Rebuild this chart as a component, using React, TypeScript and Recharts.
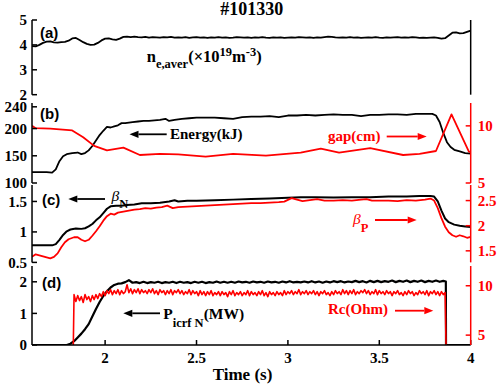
import React from 'react';
import { LineChart, Line, XAxis, YAxis } from 'recharts';

// ---------- shared axis data ----------
const X_DOMAIN: [number, number] = [1.6, 4];
const X_TICKS = [2, 2.5, 3, 3.5, 4];
const X_TICK_LABELS = ['2', '2.5', '3', '3.5', '4'];

// ---------- (a) line-averaged density, 1.60 s .. 4.00 s every 0.02 s ----------
const NE_T0 = 1.6;
const NE_DT = 0.02;
const NE_VALUES = [
  3.95, 3.94, 4.0, 4.08, 4.13, 4.14, 4.1, 4.09, 4.11, 4.12,
  4.17, 4.26, 4.28, 4.2, 4.11, 4.04, 4.0, 4.01, 4.08, 4.18,
  4.25, 4.26, 4.22, 4.2, 4.25, 4.32, 4.33, 4.31, 4.33, 4.31,
  4.3, 4.32, 4.29, 4.31, 4.3, 4.29, 4.31, 4.3, 4.32, 4.29,
  4.3, 4.29, 4.31, 4.28, 4.3, 4.31, 4.29, 4.3, 4.28, 4.3,
  4.29, 4.31, 4.29, 4.3, 4.28, 4.29, 4.31, 4.3, 4.29, 4.3,
  4.28, 4.3, 4.29, 4.31, 4.29, 4.28, 4.3, 4.29, 4.3, 4.28,
  4.29, 4.3, 4.29, 4.31, 4.3, 4.29, 4.3, 4.28, 4.3, 4.29,
  4.31, 4.33, 4.32, 4.3, 4.29, 4.3, 4.29, 4.31, 4.29, 4.3,
  4.28, 4.29, 4.3, 4.29, 4.31, 4.29, 4.28, 4.3, 4.29, 4.3,
  4.31, 4.29, 4.3, 4.29, 4.31, 4.3, 4.28, 4.29, 4.28, 4.29,
  4.3, 4.28, 4.25, 4.27, 4.38, 4.49, 4.5, 4.46, 4.47, 4.52,
  4.57,
];

// ---------- (b) stored energy (kJ) and gap (cm) ----------
const ENERGY_KJ: [number, number][] = [
  [1.6, 120], [1.64, 120], [1.68, 120], [1.71, 119], [1.73, 125], [1.75, 140], [1.77, 149], [1.79, 153],
  [1.82, 155], [1.85, 156], [1.87, 153], [1.89, 155], [1.91, 160], [1.93, 168], [1.95, 178], [1.97, 188],
  [1.99, 196], [2.01, 203], [2.03, 202], [2.05, 204], [2.07, 206], [2.09, 210], [2.11, 210], [2.13, 211],
  [2.15, 212], [2.18, 213], [2.21, 214], [2.24, 214], [2.27, 215], [2.3, 216], [2.33, 218], [2.35, 214],
  [2.38, 216], [2.42, 218], [2.46, 219], [2.5, 220], [2.55, 220], [2.6, 220], [2.65, 219], [2.7, 218],
  [2.75, 221], [2.8, 222], [2.85, 222], [2.9, 223], [2.95, 221], [3.0, 224], [3.05, 224], [3.1, 225],
  [3.15, 224], [3.2, 225], [3.25, 226], [3.3, 225], [3.35, 225], [3.4, 223], [3.45, 225], [3.5, 225],
  [3.55, 226], [3.6, 226], [3.65, 225], [3.7, 227], [3.75, 227], [3.79, 227], [3.81, 224], [3.83, 212],
  [3.85, 192], [3.87, 175], [3.89, 166], [3.91, 161], [3.94, 158], [3.97, 155], [4.0, 154],
];
const GAP_CM: [number, number][] = [
  [1.6, 10.0], [1.62, 9.8], [1.7, 9.75], [1.82, 9.6], [1.88, 9.0], [1.94, 8.25], [2.01, 7.85],
  [2.1, 8.1], [2.19, 7.45], [2.3, 7.55], [2.4, 7.5], [2.55, 7.3], [2.7, 7.55], [2.88, 7.4],
  [3.07, 7.65], [3.18, 8.0], [3.28, 7.65], [3.45, 8.05], [3.63, 7.45], [3.72, 7.55], [3.81, 7.8],
  [3.895, 11.0], [3.99, 7.75], [4.0, 7.7],
];

// ---------- (c) beta_N and beta_P ----------
const BETA_N: [number, number][] = [
  [1.6, 0.78], [1.71, 0.78], [1.73, 0.8], [1.75, 0.87], [1.77, 0.95], [1.79, 1.01], [1.81, 1.04],
  [1.84, 1.055], [1.87, 1.05], [1.89, 1.06], [1.91, 1.09], [1.93, 1.13], [1.95, 1.19], [1.97, 1.24],
  [1.99, 1.31], [2.01, 1.38], [2.03, 1.42], [2.06, 1.43], [2.09, 1.43], [2.12, 1.44], [2.16, 1.45],
  [2.2, 1.47], [2.25, 1.47], [2.3, 1.48], [2.35, 1.5], [2.38, 1.52], [2.4, 1.5], [2.45, 1.51],
  [2.5, 1.51], [2.6, 1.52], [2.7, 1.53], [2.8, 1.54], [2.9, 1.55], [3.0, 1.56], [3.07, 1.57],
  [3.15, 1.57], [3.25, 1.565], [3.35, 1.57], [3.45, 1.57], [3.55, 1.58], [3.65, 1.58], [3.72, 1.59],
  [3.78, 1.59], [3.8, 1.58], [3.82, 1.5], [3.84, 1.35], [3.86, 1.22], [3.88, 1.16], [3.91, 1.12],
  [3.94, 1.1], [3.97, 1.09], [4.0, 1.08],
];
const BETA_P: [number, number][] = [
  [1.6, 1.38], [1.62, 1.43], [1.64, 1.41], [1.67, 1.38], [1.7, 1.35], [1.72, 1.38], [1.74, 1.45],
  [1.76, 1.57], [1.78, 1.67], [1.8, 1.73], [1.83, 1.77], [1.85, 1.77], [1.87, 1.72], [1.89, 1.69],
  [1.91, 1.72], [1.93, 1.8], [1.95, 1.89], [1.97, 1.99], [1.99, 2.1], [2.01, 2.19], [2.03, 2.24],
  [2.05, 2.22], [2.07, 2.26], [2.1, 2.28], [2.13, 2.3], [2.16, 2.32], [2.19, 2.33], [2.22, 2.35],
  [2.25, 2.34], [2.28, 2.36], [2.31, 2.37], [2.34, 2.4], [2.37, 2.35], [2.4, 2.37], [2.45, 2.38],
  [2.5, 2.39], [2.55, 2.4], [2.6, 2.41], [2.65, 2.42], [2.7, 2.43], [2.75, 2.44], [2.8, 2.45],
  [2.85, 2.45], [2.9, 2.46], [2.95, 2.47], [2.98, 2.48], [3.02, 2.55], [3.05, 2.52], [3.08, 2.49],
  [3.12, 2.51], [3.16, 2.53], [3.2, 2.5], [3.25, 2.5], [3.3, 2.51], [3.35, 2.5], [3.4, 2.52],
  [3.43, 2.53], [3.46, 2.5], [3.5, 2.5], [3.55, 2.5], [3.6, 2.49], [3.65, 2.51], [3.7, 2.5],
  [3.75, 2.52], [3.78, 2.54], [3.8, 2.5], [3.82, 2.35], [3.84, 2.15], [3.86, 1.98], [3.88, 1.87],
  [3.9, 1.81], [3.92, 1.78], [3.94, 1.81], [3.96, 1.79], [3.98, 1.76], [4.0, 1.78],
];

// ---------- (d) ICRF power (MW) and coupling resistance (Ohm) ----------
const PICRF_RISE: [number, number][] = [
  [1.6, 0], [1.79, 0], [1.81, 0.04], [1.83, 0.12], [1.85, 0.24], [1.87, 0.36], [1.89, 0.5],
  [1.91, 0.66], [1.93, 0.9], [1.95, 1.14], [1.97, 1.36], [1.99, 1.55], [2.01, 1.7], [2.03, 1.82],
  [2.05, 1.9], [2.07, 1.94],
];
const PICRF_T0 = 2.09;
const PICRF_DT = 0.02;
const PICRF_FLAT = [
  1.95, 1.99, 2.05, 1.97, 1.99, 1.96, 2.0, 1.96, 1.99, 1.97,
  2.0, 1.96, 1.99, 1.97, 2.0, 1.96, 2.0, 1.97, 1.99, 1.96,
  2.0, 1.97, 2.0, 1.96, 1.99, 1.97, 2.01, 1.97, 2.0, 1.97,
  2.0, 1.97, 2.01, 1.98, 2.0, 1.97, 2.01, 1.98, 2.0, 1.97,
  2.01, 1.98, 2.0, 1.97, 2.01, 1.98, 2.02, 1.98, 2.0, 1.98,
  2.01, 1.98, 2.02, 1.98, 2.01, 1.97, 2.01, 1.98, 2.02, 1.99,
  2.02, 1.98, 2.01, 1.99, 2.03, 1.99, 2.02, 1.98, 2.03, 1.99,
  2.03, 1.99, 2.02, 2.0, 2.04, 1.99, 2.03, 2.0, 2.04, 1.99,
  2.03, 2.0, 2.04, 1.99, 2.03, 2.0, 2.04, 2.0, 2.03,
];
const PICRF_OFF: [number, number][] = [[3.864, 2.01], [3.865, 0], [4.0, 0]];

const RC_ON: [number, number] = [1.826, 4.0];
const RC_T0 = 1.83;
const RC_DT = 0.01;
const RC_VALUES = [
  9.1, 8.4, 9.0, 8.5, 8.9, 8.3, 9.1, 8.6, 8.9, 8.4,
  9.0, 8.6, 9.1, 8.7, 9.2, 8.9, 9.4, 9.0, 9.5, 9.2,
  9.6, 9.1, 9.5, 9.2, 9.6, 9.1, 9.5, 9.2, 9.4, 10.1,
  9.3, 9.7, 9.2, 9.6, 9.3, 9.7, 9.2, 9.6, 9.3, 9.5,
  9.2, 9.6, 9.3, 9.7, 9.2, 9.5, 9.1, 9.6, 9.3, 9.5,
  9.1, 9.5, 9.2, 9.6, 9.1, 9.5, 9.3, 9.6, 9.2, 9.5,
  9.1, 9.4, 9.2, 9.6, 9.1, 9.5, 9.2, 9.4, 9.0, 9.5,
  9.1, 9.4, 9.0, 9.4, 9.1, 9.5, 9.0, 9.3, 9.1, 9.4,
  9.0, 9.4, 9.1, 9.3, 8.9, 9.4, 9.1, 9.5, 9.0, 9.3,
  9.1, 9.4, 9.0, 9.3, 9.1, 9.5, 9.0, 9.4, 9.1, 9.3,
  9.0, 9.4, 9.1, 9.5, 9.0, 9.3, 8.9, 9.4, 9.1, 9.3,
  9.0, 9.4, 9.1, 9.3, 9.0, 9.5, 9.1, 9.4, 9.2, 9.5,
  9.1, 9.4, 9.2, 9.6, 9.1, 9.4, 9.2, 9.5, 9.1, 9.4,
  9.2, 9.5, 9.1, 9.4, 9.0, 9.4, 9.2, 9.5, 9.1, 9.3,
  9.0, 9.4, 9.1, 9.5, 9.2, 9.4, 9.1, 9.6, 9.2, 9.5,
  9.1, 9.5, 9.2, 9.6, 9.1, 9.4, 9.2, 9.5, 9.3, 9.6,
  9.2, 9.5, 9.1, 9.4, 9.2, 9.6, 9.1, 9.5, 9.2, 9.4,
  9.1, 9.5, 9.2, 9.4, 9.0, 9.4, 9.2, 9.5, 9.1, 9.3,
  9.0, 9.4, 9.1, 9.5, 9.2, 9.4, 9.0, 9.3, 9.1, 9.5,
  9.2, 9.4, 9.1, 9.5, 9.0, 9.4, 9.2, 9.5, 9.1, 9.4,
  9.0, 9.4, 9.1, 9.3,
];
const RC_OFF: [number, number] = [3.865, 4.0];

// ---------- tables built from the arrays ----------
type Pt = { t: number; v: number };
const fromPairs = (p: [number, number][]): Pt[] => p.map(([t, v]) => ({ t, v }));
const fromGrid = (t0: number, dt: number, vals: number[]): Pt[] =>
  vals.map((v, i) => ({ t: Math.round((t0 + i * dt) * 1000) / 1000, v }));

const neData = fromGrid(NE_T0, NE_DT, NE_VALUES);
const energyData = fromPairs(ENERGY_KJ);
const gapData = fromPairs(GAP_CM);
const betaNData = fromPairs(BETA_N);
const betaPData = fromPairs(BETA_P);
const picrfData = [...fromPairs(PICRF_RISE), ...fromGrid(PICRF_T0, PICRF_DT, PICRF_FLAT), ...fromPairs(PICRF_OFF)];
const rcData = [...fromPairs([RC_ON]), ...fromGrid(RC_T0, RC_DT, RC_VALUES), ...fromPairs([RC_OFF])];

// ---------- styling ----------
const W = 502;
const H = 386;
const PLOT_LEFT = 32;
const PLOT_RIGHT = 470.7;
const RED = '#ff0000';
const SERIF = '"Liberation Serif", "Times New Roman", serif';
const SANS = '"Liberation Sans", Arial, sans-serif';

type Series = { data: Pt[]; axis: 'l' | 'r'; color: string; width: number; key: string };
type PanelProps = {
  top: number;
  height: number;
  leftDomain: [number, number];
  leftTicks: number[];
  rightDomain: [number, number];
  rightTicks: number[];
  rightColor: string;
  rightLabels: boolean;
  series: Series[];
  showX: boolean;
};

const tickFont = (fill: string) => ({ fill, fontSize: 15, fontFamily: SERIF, fontWeight: 700 });

function Panel(p: PanelProps) {
  const mt = 12;
  const mb = p.showX ? 0 : 12;
  const xh = p.showX ? 40 : 0;
  const h = p.height + mt + mb + xh;
  const axisBlack = { stroke: '#000', strokeWidth: 1.5 };
  const axisRight = { stroke: p.rightColor, strokeWidth: 1.5 };
  return (
    <div style={{ position: 'absolute', left: 0, top: p.top - mt, width: W, height: h }}>
      <LineChart width={W} height={h} margin={{ top: mt, right: 0, bottom: mb, left: 0 }} style={{ overflow: 'visible' }}>
        <XAxis
          xAxisId="b"
          type="number"
          dataKey="t"
          domain={X_DOMAIN}
          ticks={X_TICKS}
          tickFormatter={(v: number) => X_TICK_LABELS[X_TICKS.indexOf(v)] ?? String(v)}
          allowDataOverflow
          interval={0}
          height={xh}
          tickSize={-5}
          tickMargin={12.5}
          tick={p.showX ? tickFont('#000') : false}
          axisLine={axisBlack}
          tickLine={axisBlack}
        />
        <XAxis
          xAxisId="t"
          orientation="top"
          type="number"
          dataKey="t"
          domain={X_DOMAIN}
          ticks={X_TICKS}
          allowDataOverflow
          interval={0}
          height={0}
          tickSize={-5}
          tick={false}
          axisLine={axisBlack}
          tickLine={axisBlack}
        />
        <YAxis
          yAxisId="l"
          orientation="left"
          type="number"
          width={PLOT_LEFT}
          domain={p.leftDomain}
          ticks={p.leftTicks}
          allowDataOverflow
          interval={0}
          tickSize={-5}
          tickMargin={10}
          tick={tickFont('#000')}
          axisLine={axisBlack}
          tickLine={axisBlack}
        />
        <YAxis
          yAxisId="r"
          orientation="right"
          type="number"
          width={W - PLOT_RIGHT}
          domain={p.rightDomain}
          ticks={p.rightTicks}
          allowDataOverflow
          interval={0}
          tickSize={-5}
          tickMargin={12}
          tick={p.rightLabels ? tickFont(p.rightColor) : false}
          axisLine={axisRight}
          tickLine={axisRight}
        />
        {p.series.map((s) => (
          <Line
            key={s.key}
            xAxisId="b"
            yAxisId={s.axis}
            data={s.data}
            dataKey="v"
            type="linear"
            stroke={s.color}
            strokeWidth={s.width}
            strokeLinejoin="round"
            dot={false}
            activeDot={false}
            isAnimationActive={false}
          />
        ))}
      </LineChart>
    </div>
  );
}

function Arrow({ x1, x2, y, color }: { x1: number; x2: number; y: number; color: string }) {
  // x1 = tail, x2 = head
  const dir = x2 > x1 ? 1 : -1;
  const hl = 9;
  const hw = 3.6;
  const base = x2 - dir * hl;
  return (
    <g>
      <line x1={x1} y1={y} x2={base} y2={y} stroke={color} strokeWidth={1.8} />
      <polygon points={`${x2},${y} ${base},${y - hw} ${base},${y + hw}`} fill={color} />
    </g>
  );
}

export default function App() {
  return (
    <div style={{ position: 'absolute', left: 0, top: 0, width: W, height: H, background: '#fff', overflow: 'hidden' }}>
      <Panel
        top={20}
        height={74.7}
        leftDomain={[2, 5]}
        leftTicks={[2, 3, 4, 5]}
        rightDomain={[2, 5]}
        rightTicks={[3, 4]}
        rightColor="#000"
        rightLabels={false}
        showX={false}
        series={[{ key: 'ne', data: neData, axis: 'l', color: '#000', width: 1.8 }]}
      />
      <Panel
        top={102.7}
        height={80}
        leftDomain={[100, 247]}
        leftTicks={[100, 150, 200, 240]}
        rightDomain={[5, 12]}
        rightTicks={[5, 10]}
        rightColor={RED}
        rightLabels
        showX={false}
        series={[
          { key: 'energy', data: energyData, axis: 'l', color: '#000', width: 1.8 },
          { key: 'gap', data: gapData, axis: 'r', color: RED, width: 1.8 },
        ]}
      />
      <Panel
        top={185.3}
        height={77.4}
        leftDomain={[0.5, 1.77]}
        leftTicks={[0.5, 1, 1.5]}
        rightDomain={[1.27, 2.81]}
        rightTicks={[1.5, 2, 2.5]}
        rightColor={RED}
        rightLabels
        showX={false}
        series={[
          { key: 'bn', data: betaNData, axis: 'l', color: '#000', width: 2 },
          { key: 'bp', data: betaPData, axis: 'r', color: RED, width: 1.8 },
        ]}
      />
      <Panel
        top={266.3}
        height={79}
        leftDomain={[0, 2.5]}
        leftTicks={[0, 1, 2]}
        rightDomain={[4, 12]}
        rightTicks={[5, 10]}
        rightColor={RED}
        rightLabels
        showX
        series={[
          { key: 'p', data: picrfData, axis: 'l', color: '#000', width: 2.2 },
          { key: 'rc', data: rcData, axis: 'r', color: RED, width: 1.6 },
        ]}
      />

      <svg width={W} height={H} style={{ position: 'absolute', left: 0, top: 0, pointerEvents: 'none' }}>
        <text x={251.7} y={15} textAnchor="middle" fontFamily={SERIF} fontWeight={700} fontSize={18} fill="#000">
          #101330
        </text>

        {/* panel tags */}
        <text x={40} y={38} fontFamily={SANS} fontWeight={700} fontSize={15} fill="#000">(a)</text>
        <text x={40} y={119} fontFamily={SANS} fontWeight={700} fontSize={15} fill="#000">(b)</text>
        <text x={42} y={205} fontFamily={SANS} fontWeight={700} fontSize={15} fill="#000">(c)</text>
        <text x={42} y={288} fontFamily={SANS} fontWeight={700} fontSize={15} fill="#000">(d)</text>

        {/* (a) */}
        <text x={146.7} y={62} fontFamily={SERIF} fontWeight={700} fontSize={16.5} fill="#000">
          <tspan>n</tspan>
          <tspan fontSize={12.5} dy={5.5}>e,aver</tspan>
          <tspan dy={-5.5}>(×10</tspan>
          <tspan fontSize={12.5} dy={-6}>19</tspan>
          <tspan dy={6}>m</tspan>
          <tspan fontSize={12.5} dy={-6}>-3</tspan>
          <tspan dy={6}>)</tspan>
        </text>

        {/* (b) */}
        <Arrow x1={166.7} x2={129.5} y={134.3} color="#000" />
        <text x={170} y={138.5} fontFamily={SERIF} fontWeight={700} fontSize={15} fill="#000">Energy(kJ)</text>
        <text x={328} y={141} fontFamily={SERIF} fontWeight={700} fontSize={15} fill={RED}>gap(cm)</text>
        <Arrow x1={386.7} x2={426.7} y={136.5} color={RED} />

        {/* (c) */}
        <Arrow x1={105} x2={68.3} y={199} color="#000" />
        <text x={111.5} y={200.5} fontFamily={SERIF} fontStyle="italic" fontSize={15.5} fill="#000">
          β<tspan fontStyle="normal" fontWeight={700} fontSize={12.5} dy={7}>N</tspan>
        </text>
        <text x={353} y={224} fontFamily={SERIF} fontStyle="italic" fontSize={15.5} fill={RED}>
          β<tspan fontStyle="normal" fontWeight={700} fontSize={12.5} dy={7.5}>P</tspan>
        </text>
        <Arrow x1={375} x2={416.7} y={220} color={RED} />

        {/* (d) */}
        <Arrow x1={160} x2={123.3} y={313.3} color="#000" />
        <text x={163.3} y={318.5} fontFamily={SERIF} fontWeight={700} fontSize={15.5} fill="#000">
          <tspan>P</tspan>
          <tspan fontSize={12.5} dy={8}>icrf N</tspan>
          <tspan dy={-8}>(MW)</tspan>
        </text>
        <text x={328} y={313.5} fontFamily={SERIF} fontWeight={700} fontSize={15} fill={RED}>Rc(Ohm)</text>
        <Arrow x1={395} x2={433.3} y={310.7} color={RED} />

        <text x={242.5} y={380} textAnchor="middle" fontFamily={SERIF} fontWeight={700} fontSize={17} fill="#000">
          Time (s)
        </text>
      </svg>
    </div>
  );
}
